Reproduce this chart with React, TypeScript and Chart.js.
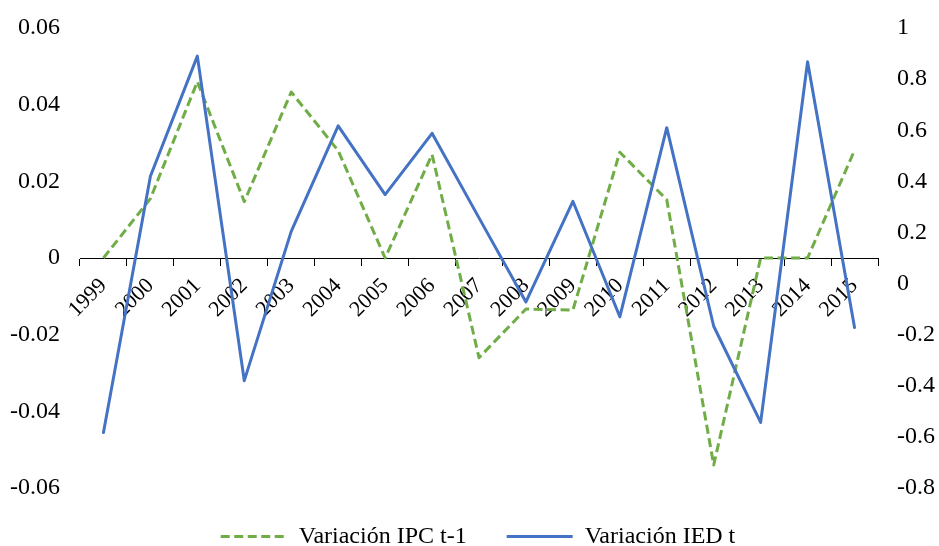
import React, { useEffect, useRef } from 'react';
import { Chart, registerables } from 'chart.js';

Chart.register(...registerables);

const years = ['1999', '2000', '2001', '2002', '2003', '2004', '2005', '2006', '2007', '2008', '2009', '2010', '2011', '2012', '2013', '2014', '2015'];
const ipcVariation = [0, 0.0155, 0.046, 0.0147, 0.0433, 0.028, 0, 0.027, -0.026, -0.0133, -0.0136, 0.0276, 0.0152, -0.054, 0, 0, 0.0281];
const iedVariation = [-0.583, 0.42, 0.89, -0.38, 0.204, 0.617, 0.348, 0.588, 0.257, -0.072, 0.322, -0.13, 0.61, -0.167, -0.543, 0.868, -0.172];
const leftTickValues = [-0.06, -0.04, -0.02, 0, 0.02, 0.04, 0.06];
const leftTickLabels = ['-0.06', '-0.04', '-0.02', '0', '0.02', '0.04', '0.06'];
const rightTickValues = [-0.8, -0.6, -0.4, -0.2, 0, 0.2, 0.4, 0.6, 0.8, 1];
const rightTickLabels = ['-0.8', '-0.6', '-0.4', '-0.2', '0', '0.2', '0.4', '0.6', '0.8', '1'];
const seriesNames = ['Variación IPC t-1', 'Variación IED t'];

const GREEN = '#70AD47';
const BLUE = '#4472C4';
const FONT = "'Liberation Serif', 'Times New Roman', serif";
const GREEN_DASH = [9, 4.5];

const legendShift = {
  id: 'legendShift',
  afterLayout(chart: any) {
    const lg = chart.legend;
    if (lg) {
      lg.left += 8.5;
      lg.right += 8.5;
      lg.top -= 3.5;
      lg.bottom -= 3.5;
    }
  },
};

export default function App() {
  const canvasRef = useRef<HTMLCanvasElement | null>(null);

  useEffect(() => {
    const canvas = canvasRef.current;
    if (!canvas) return;
    Chart.defaults.font.family = FONT;
    Chart.defaults.color = '#000';

    const chart = new Chart(canvas, {
      type: 'line',
      data: {
        labels: years,
        datasets: [
          {
            label: seriesNames[0],
            data: ipcVariation,
            yAxisID: 'y',
            borderColor: GREEN,
            backgroundColor: GREEN,
            borderWidth: 3,
            borderDash: GREEN_DASH,
            borderCapStyle: 'butt',
            borderJoinStyle: 'round',
            pointRadius: 0,
            tension: 0,
            order: 1,
          },
          {
            label: seriesNames[1],
            data: iedVariation,
            yAxisID: 'y1',
            borderColor: BLUE,
            backgroundColor: BLUE,
            borderWidth: 3,
            borderCapStyle: 'round',
            borderJoinStyle: 'round',
            pointRadius: 0,
            tension: 0,
            order: 0,
          },
        ],
      },
      options: {
        responsive: false,
        animation: false,
        events: [],
        layout: { padding: { top: 28, bottom: -16, left: 0, right: 0 } },
        plugins: {
          tooltip: { enabled: false },
          legend: {
            position: 'bottom',
            align: 'center',
            labels: {
              usePointStyle: true,
              pointStyleWidth: 66,
              padding: 40,
              color: '#000',
              font: { size: 24, family: FONT },
              generateLabels: () => [
                {
                  text: seriesNames[0],
                  fillStyle: GREEN,
                  strokeStyle: GREEN,
                  lineWidth: 3,
                  lineDash: GREEN_DASH,
                  lineCap: 'butt',
                  pointStyle: 'line',
                  hidden: false,
                  datasetIndex: 0,
                  fontColor: '#000',
                },
                {
                  text: seriesNames[1],
                  fillStyle: BLUE,
                  strokeStyle: BLUE,
                  lineWidth: 3,
                  lineDash: [],
                  lineCap: 'butt',
                  pointStyle: 'line',
                  hidden: false,
                  datasetIndex: 1,
                  fontColor: '#000',
                },
              ],
            },
          },
        },
        scales: {
          x: {
            type: 'category',
            offset: true,
            position: { y: 0 },
            grid: {
              display: true,
              offset: true,
              drawOnChartArea: false,
              drawTicks: true,
              tickLength: 7,
              color: '#000',
              lineWidth: 1,
            },
            border: { display: true, color: '#000', width: 1 },
            ticks: {
              autoSkip: false,
              minRotation: 45,
              maxRotation: 45,
              padding: 8,
              color: '#000',
              font: { size: 22, family: FONT },
            },
          },
          y: {
            type: 'linear',
            position: 'left',
            min: -0.06,
            max: 0.06,
            grid: { display: false, drawTicks: true, tickLength: 20 },
            border: { display: false },
            afterBuildTicks: (scale: any) => {
              scale.ticks = leftTickValues.map((v) => ({ value: v }));
            },
            afterFit: (scale: any) => {
              scale.width = 80;
            },
            ticks: {
              padding: 0,
              color: '#000',
              font: { size: 24, family: FONT },
              callback: (_v: any, i: number) => leftTickLabels[i],
            },
          },
          y1: {
            type: 'linear',
            position: 'right',
            min: -0.8,
            max: 1,
            grid: { display: false, drawTicks: true, tickLength: 19 },
            border: { display: false },
            afterBuildTicks: (scale: any) => {
              scale.ticks = rightTickValues.map((v) => ({ value: v }));
            },
            afterFit: (scale: any) => {
              scale.width = 61;
            },
            ticks: {
              padding: 0,
              color: '#000',
              font: { size: 24, family: FONT },
              callback: (_v: any, i: number) => rightTickLabels[i],
            },
          },
        },
      } as any,
      plugins: [legendShift],
    });

    return () => {
      chart.destroy();
    };
  }, []);

  return (
    <div style={{ position: 'fixed', left: 0, top: 0, width: 939, height: 546, background: '#fff' }}>
      <canvas ref={canvasRef} width={939} height={546} style={{ display: 'block' }} />
    </div>
  );
}
